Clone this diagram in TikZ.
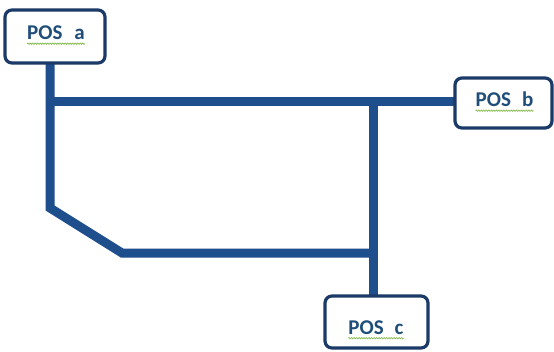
\documentclass[tikz,border=0pt]{standalone}
\usepackage{fontspec}
\setmainfont{Carlito}
\usetikzlibrary{decorations.pathmorphing}
\definecolor{pipeblue}{HTML}{1F4E8C}
\definecolor{boxnavy}{HTML}{1B3A68}
\definecolor{txtblue}{HTML}{1F4E79}
\definecolor{squig}{HTML}{8DBF5A}
\tikzset{
  pipe/.style={draw=pipeblue, line width=9pt, line join=miter},
  posbox/.style={draw=boxnavy, line width=3.2pt, rounded corners=7pt, fill=white, inner sep=0pt},
  postext/.style={inner sep=0pt, text=txtblue, font=\fontsize{21}{23}\selectfont\bfseries},
  spell/.style={draw=squig, line width=0.8pt, decorate, decoration={snake, amplitude=0.6pt, segment length=2.5pt}}
}
\begin{document}
\begin{tikzpicture}[x=1pt,y=-1pt]
\useasboundingbox (0,0) rectangle (554,351);
\fill[white] (0,0) rectangle (554,351);
% box positions
\coordinate (ca) at (55,36.5);
\coordinate (cb) at (503.5,103);
\coordinate (cc) at (376.5,322);
% junctions
\coordinate (j1) at (50,101);
\coordinate (j2) at (373,101);
\coordinate (k1) at (50,208);
\coordinate (k2) at (122,253);
\coordinate (k3) at (373,253);
% box frames (invisible, for anchors)
\path (ca) node[minimum width=100pt, minimum height=53pt, inner sep=0pt] (a) {};
\path (cb) node[minimum width=97pt, minimum height=50pt, inner sep=0pt] (b) {};
\path (cc) node[minimum width=103pt, minimum height=52pt, inner sep=0pt] (c) {};
% pipes
\draw[pipe] (j1 |- a.south) -- (k1) -- (k2) -- (k3);
\draw[pipe] (j1) -- (j1 -| b.west);
\draw[pipe] (j2) -- (j2 |- c.north);
% box outlines
\node[posbox, minimum width=100pt, minimum height=53pt] (abox) at (a) {};
\node[posbox, minimum width=97pt, minimum height=50pt] (bbox) at (b) {};
\node[posbox, minimum width=103pt, minimum height=52pt] (cbox) at (c) {};
% texts
\node[postext] (ta) at (56,33) {POS\hspace{12pt}a};
\node[postext] (tb) at (504.5,99.5) {POS\hspace{11pt}b};
\node[postext] (tc) at (376,327.5) {POS\hspace{11pt}c};
\draw[spell] ([yshift=-3.5pt]ta.south west) -- ([yshift=-3.5pt]ta.south east);
\draw[spell] ([yshift=-3.5pt]tb.south west) -- ([yshift=-3.5pt]tb.south east);
\draw[spell] ([yshift=-3.5pt]tc.south west) -- ([yshift=-3.5pt]tc.south east);
\end{tikzpicture}
\end{document}
